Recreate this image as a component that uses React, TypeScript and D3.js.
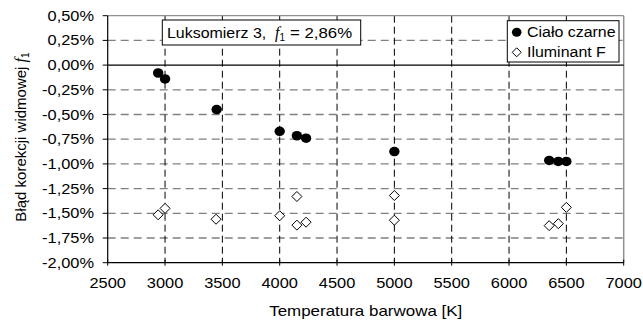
import React from "react";
import * as d3 from "d3";

const xTicks = [2500, 3000, 3500, 4000, 4500, 5000, 5500, 6000, 6500, 7000];
const yTicks = [0.5, 0.25, 0, -0.25, -0.5, -0.75, -1.0, -1.25, -1.5, -1.75, -2.0];

const blackT = [2940, 3000, 3450, 4000, 4150, 4230, 5000, 6350, 6430, 6500];
const blackV = [-0.08, -0.14, -0.45, -0.67, -0.715, -0.74, -0.875, -0.965, -0.975, -0.975];

const illumT = [2940, 3000, 3445, 4000, 4150, 4150, 4230, 5000, 5000, 6350, 6430, 6500];
const illumV = [-1.515, -1.45, -1.56, -1.525, -1.33, -1.62, -1.59, -1.32, -1.57, -1.625, -1.605, -1.44];

const seriesNames = ["Ciało czarne", "Iluminant F"];

const W = 643;
const H = 321;
const M = { left: 107.7, right: 623.7, top: 15.7, bottom: 262.7 };
const FONT = "'Liberation Sans', Arial, sans-serif";
const SERIF = "'Liberation Serif', 'Times New Roman', serif";

const fmtY = (v: number) => v.toFixed(2).replace(".", ",") + "%";

function T(props: { x: number; y: number; size: number; sx?: number; anchor?: string; children: React.ReactNode }) {
  const { x, y, size, sx = 1.13, anchor = "start", children } = props;
  return (
    <text transform={`translate(${x},${y}) scale(${sx},1)`} textAnchor={anchor} fontSize={size} dy="0.35em">
      {children}
    </text>
  );
}

export default function App() {
  const x = d3.scaleLinear().domain([2500, 7000]).range([M.left, M.right]);
  const y = d3.scaleLinear().domain([-2, 0.5]).range([M.bottom, M.top]);
  const diamond = (cx: number, cy: number, r: number) =>
    `M${cx},${cy - r}L${cx + r},${cy}L${cx},${cy + r}L${cx - r},${cy}Z`;

  return (
    <svg width={W} height={H} style={{ position: "absolute", left: 0, top: 0, background: "#fff" }} fontFamily={FONT}>
      <rect x={0} y={0} width={W} height={H} fill="#fff" />
      {yTicks.filter((v) => v !== 0 && v !== 0.5 && v !== -2).map((v) => (
        <line key={"h" + v} x1={M.left} x2={M.right} y1={y(v)} y2={y(v)} stroke="#808080" strokeWidth={1.3} strokeDasharray="8,5" />
      ))}
      {xTicks.filter((t) => t !== 2500 && t !== 7000).map((t) => (
        <line key={"v" + t} x1={x(t)} x2={x(t)} y1={M.top} y2={M.bottom} stroke="#000" strokeWidth={1} strokeDasharray="7,4" />
      ))}
      <line x1={M.left} x2={M.right} y1={M.top} y2={M.top} stroke="#909090" strokeWidth={1.2} />
      <line x1={M.right} x2={M.right} y1={M.top} y2={M.bottom} stroke="#909090" strokeWidth={1.5} />
      <line x1={M.left} x2={M.right} y1={y(0)} y2={y(0)} stroke="#000" strokeWidth={1.2} />
      <line x1={M.left} x2={M.right} y1={M.bottom} y2={M.bottom} stroke="#000" strokeWidth={1.2} />
      <line x1={M.left} x2={M.left} y1={M.top} y2={M.bottom} stroke="#000" strokeWidth={1.2} />
      {yTicks.map((v) => (
        <g key={"yt" + v}>
          <line x1={M.left - 5} x2={M.left} y1={y(v)} y2={y(v)} stroke="#000" strokeWidth={1} />
          <T x={94} y={y(v)} size={14.5} anchor="end">{fmtY(v)}</T>
        </g>
      ))}
      {xTicks.map((t) => (
        <g key={"xt" + t}>
          <line x1={x(t)} x2={x(t)} y1={M.bottom - 3} y2={M.bottom + 3} stroke="#000" strokeWidth={1} />
          <T x={x(t)} y={283} size={14.5} anchor="middle">{t}</T>
        </g>
      ))}
      <T x={365.7} y={311} size={15} anchor="middle">Temperatura barwowa [K]</T>
      <text transform={`translate(25.5,${137}) rotate(-90)`} textAnchor="middle" fontSize={15}>
        Błąd korekcji widmowej <tspan fontStyle="italic" fontFamily={SERIF} fontSize={16}>f</tspan>
        <tspan fontSize={10} dy={3}>1</tspan>
      </text>
      <rect x={162.3} y={20} width={198.4} height={25} fill="#fff" stroke="#000" strokeWidth={1} />
      <T x={167} y={32.5} size={14.5} sx={1.1}>Luksomierz 3,</T>
      <T x={275} y={32.5} size={16} sx={1}>
        <tspan fontStyle="italic" fontFamily={SERIF}>f</tspan>
        <tspan fontSize={10} dy={3}>1</tspan>
      </T>
      <T x={290} y={32.5} size={14.5} sx={1.16}>= 2,86%</T>
      {illumT.map((t, i) => (
        <path key={"d" + i} d={diamond(x(t), y(illumV[i]), 5)} fill="#fff" stroke="#000" strokeWidth={1} />
      ))}
      {blackT.map((t, i) => (
        <ellipse key={"c" + i} cx={x(t)} cy={y(blackV[i])} rx={5.2} ry={4.8} fill="#000" />
      ))}
      <rect x={507.3} y={20.7} width={111.7} height={41.3} fill="#fff" stroke="#000" strokeWidth={1} />
      <ellipse cx={516.7} cy={32.3} rx={4.8} ry={4.5} fill="#000" />
      <T x={527} y={32.3} size={14.5} sx={1.1}>{seriesNames[0]}</T>
      <path d={diamond(516.7, 52.3, 4.5)} fill="#fff" stroke="#000" strokeWidth={1} />
      <T x={527} y={52.3} size={14.5} sx={1.1}>{seriesNames[1]}</T>
    </svg>
  );
}
